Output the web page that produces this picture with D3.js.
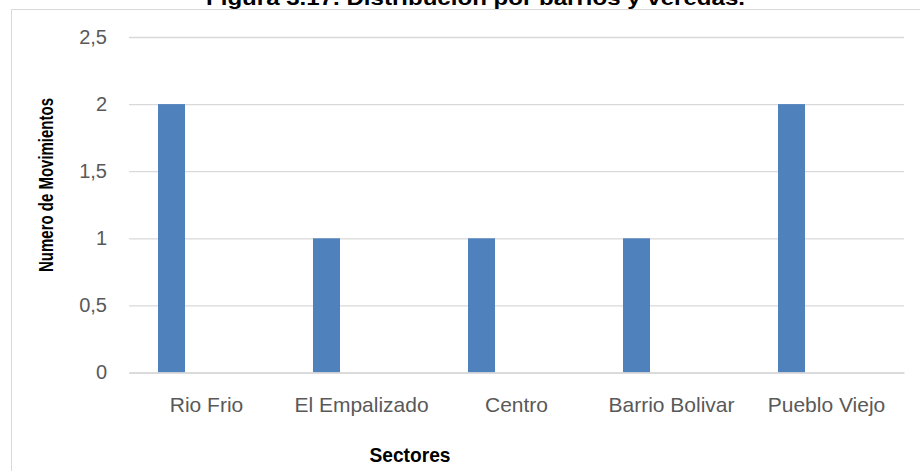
<!DOCTYPE html>
<html>
<head>
<meta charset="utf-8">
<script src="https://cdn.jsdelivr.net/npm/d3@7"></script>
<style>
  html, body { margin: 0; padding: 0; background: #fff; }
  svg { display: block; font-family: "Liberation Sans", Arial, sans-serif; }
</style>
</head>
<body>
<svg id="chart" width="920" height="471"></svg>
<script>
// Movements recorded per sector
const categories = ["Rio Frio", "El Empalizado", "Centro", "Barrio Bolivar", "Pueblo Viejo"];
const movimientos = [2, 1, 1, 1, 2];
const yTicks = [0, 0.5, 1, 1.5, 2, 2.5];
const yTickLabels = ["0", "0,5", "1", "1,5", "2", "2,5"];

const titleText = "Figura 3.17. Distribución por barrios y veredas.";
const yTitle = "Numero  de Movimientos";
const xTitle = "Sectores";

const svg = d3.select("#chart");
const W = 920, H = 471;
const plot = { left: 129, right: 904, top: 37, bottom: 372.5 };

const x = d3.scaleBand().domain(categories).range([plot.left, plot.right]);
const y = d3.scaleLinear().domain([0, 2.5]).range([plot.bottom, plot.top]);

// chart area frame
svg.append("path")
  .attr("d", `M11.5,${H} V9.5 H${W}`)
  .attr("fill", "none")
  .attr("stroke", "#d9d9d9")
  .attr("stroke-width", 1);

// title (sits at the very top edge)
svg.append("text")
  .attr("x", 206).attr("y", 5)
  .attr("font-size", 20).attr("font-weight", "bold")
  .attr("fill", "#000")
  .attr("textLength", 539).attr("lengthAdjust", "spacingAndGlyphs")
  .text(titleText);

// horizontal gridlines + value labels
const yAxis = d3.axisLeft(y)
  .tickValues(yTicks)
  .tickSize(-(plot.right - plot.left))
  .tickPadding(22)
  .tickFormat((d, i) => yTickLabels[i]);

const gy = svg.append("g")
  .attr("transform", `translate(${plot.left},0)`)
  .call(yAxis);
gy.select(".domain").remove();
gy.selectAll(".tick line").attr("stroke", "#d9d9d9").attr("stroke-width", 1.3);
gy.selectAll(".tick text")
  .attr("font-size", 20)
  .attr("fill", "#595959")
  .attr("font-family", "'Liberation Sans', Arial, sans-serif");

// bars
const barOffset = 29, barWidth = 27;
svg.append("g").selectAll("rect")
  .data(categories.map((c, i) => ({ c, v: movimientos[i] })))
  .join("rect")
  .attr("x", d => x(d.c) + barOffset)
  .attr("width", barWidth)
  .attr("y", d => y(d.v))
  .attr("height", d => y(0) - y(d.v))
  .attr("fill", "#4f81bd");

// category axis
const xAxis = d3.axisBottom(x).tickSize(0).tickPadding(25);
const gx = svg.append("g")
  .attr("transform", `translate(0,${plot.bottom})`)
  .call(xAxis);
gx.select(".domain").attr("stroke", "#d9d9d9").attr("stroke-width", 1.3);
gx.selectAll(".tick text")
  .attr("font-size", 21)
  .attr("fill", "#595959")
  .attr("font-family", "'Liberation Sans', Arial, sans-serif");

// axis titles
svg.append("text")
  .attr("x", 410).attr("y", 462)
  .attr("text-anchor", "middle")
  .attr("font-size", 21).attr("font-weight", "bold")
  .attr("textLength", 81).attr("lengthAdjust", "spacingAndGlyphs")
  .text(xTitle);

svg.append("text")
  .attr("transform", "translate(53,185) rotate(-90)")
  .attr("text-anchor", "middle")
  .attr("font-size", 20).attr("font-weight", "bold")
  .attr("textLength", 174).attr("lengthAdjust", "spacingAndGlyphs")
  .text(yTitle);
</script>
</body>
</html>
